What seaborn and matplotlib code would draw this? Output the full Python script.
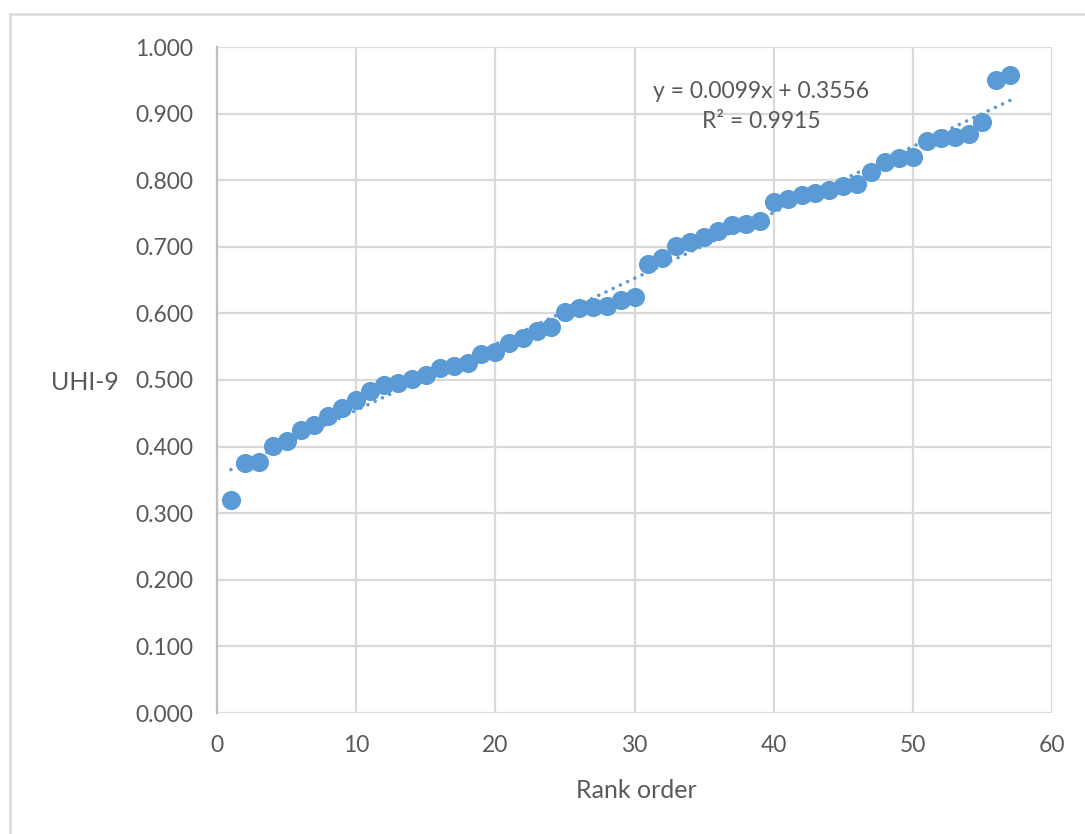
import matplotlib
matplotlib.use("Agg")
import matplotlib.pyplot as plt
from matplotlib.lines import Line2D
import numpy as np
import pandas as pd
import seaborn as sns

rank = list(range(1, 58))
uhi9 = [0.320, 0.375, 0.377, 0.401, 0.408, 0.425, 0.432, 0.446, 0.458, 0.470,
        0.483, 0.492, 0.495, 0.502, 0.508, 0.518, 0.521, 0.525, 0.539, 0.542,
        0.556, 0.563, 0.574, 0.580, 0.602, 0.608, 0.610, 0.611, 0.620, 0.625,
        0.674, 0.683, 0.701, 0.707, 0.715, 0.724, 0.733, 0.734, 0.739, 0.767,
        0.772, 0.778, 0.781, 0.785, 0.791, 0.794, 0.812, 0.827, 0.833, 0.835,
        0.859, 0.863, 0.865, 0.869, 0.887, 0.950, 0.958]
slope = 0.0099
intercept = 0.3556
eq_text = "y = 0.0099x + 0.3556"
r2_text = "R² = 0.9915"
x_ticks = [0, 10, 20, 30, 40, 50, 60]
y_ticks = [0.0, 0.1, 0.2, 0.3, 0.4, 0.5, 0.6, 0.7, 0.8, 0.9, 1.0]

df = pd.DataFrame({"Rank order": rank, "UHI-9": uhi9})

sns.set_theme(style="white")
plt.rcParams['font.family'] = ['Lato', 'DejaVu Sans']

W, H = 1085, 834
fig = plt.figure(figsize=(W / 100, H / 100), dpi=100)
ax = fig.add_axes([217 / W, 1 - 713 / H, (1052 - 217) / W, (713 - 47) / H])

grid_c = "#D9D9D9"
text_c = "#595959"
blue = "#5B9BD5"

# trendline
tx = np.array([rank[0], rank[-1]], dtype=float)
ax.plot(tx, slope * tx + intercept, linestyle=(0, (0.01, 2.2)), color=blue,
        linewidth=2.6, dash_capstyle="round", zorder=2)

sns.scatterplot(data=df, x="Rank order", y="UHI-9", ax=ax, s=190, color=blue,
                edgecolor=blue, linewidth=0, zorder=3, legend=False)

ax.set_xlim(0, 60)
ax.set_ylim(0, 1.0)
ax.set_xticks(x_ticks)
ax.set_yticks(y_ticks)
ax.set_xticklabels([str(v) for v in x_ticks])
ax.set_yticklabels([f"{v:.3f}" for v in y_ticks])
ax.grid(True, color=grid_c, linewidth=1.6)
ax.set_axisbelow(True)
for side in ["top", "right", "bottom"]:
    ax.spines[side].set_visible(False)
ax.spines["left"].set_color("#BFBFBF")
ax.spines["left"].set_linewidth(1.6)
ax.tick_params(axis="both", length=0, labelsize=16.5, colors=text_c)
ax.tick_params(axis="y", pad=17)
ax.tick_params(axis="x", pad=16)
for lab in ax.get_xticklabels() + ax.get_yticklabels():
    lab.set_clip_on(False)

ax.set_xlabel("")
ax.set_ylabel("")
fig.text(636 / W, 1 - 791 / H, "Rank order", fontsize=18, color=text_c,
         ha="center", va="center")
fig.text(85 / W, 1 - 383 / H, "UHI-9", fontsize=18, color=text_c,
         ha="center", va="center")

fig.text(761 / W, 1 - 91 / H, eq_text, fontsize=16.5, color=text_c,
         ha="center", va="center")
fig.text(761 / W, 1 - 122 / H, r2_text, fontsize=16.5, color=text_c,
         ha="center", va="center")

# outer chart border
fig.add_artist(Line2D([10 / W, 1.0], [1 - 14 / H, 1 - 14 / H], color=grid_c,
                      linewidth=1.8, transform=fig.transFigure))
fig.add_artist(Line2D([10 / W, 10 / W], [1 - 14 / H, 0.0], color=grid_c,
                      linewidth=1.8, transform=fig.transFigure))

fig.savefig("out.png", dpi=100)
